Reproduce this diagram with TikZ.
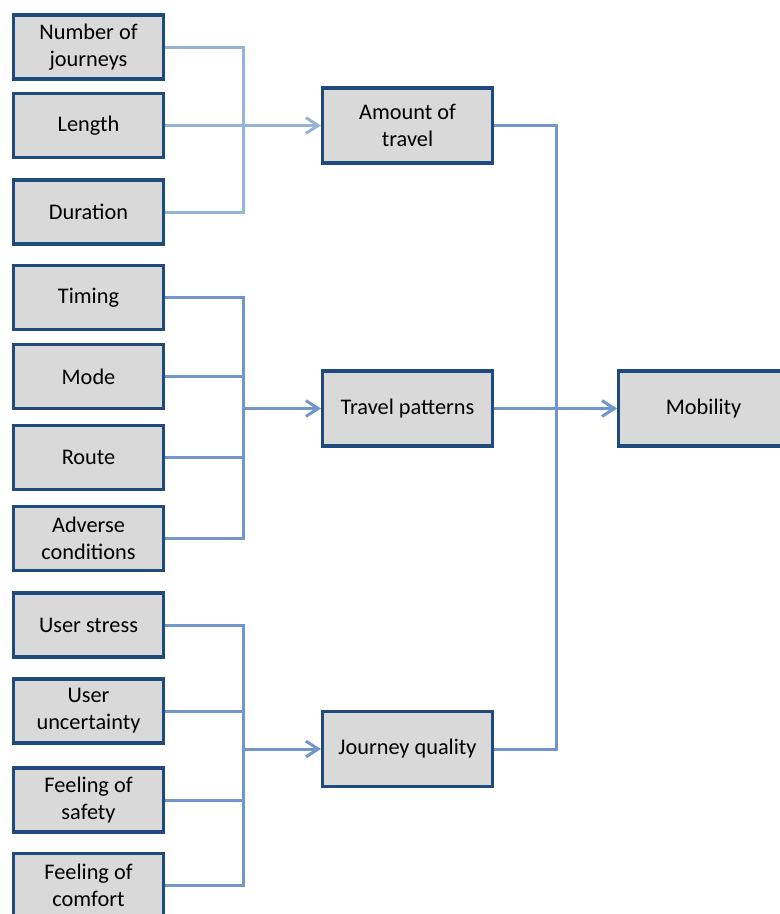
\documentclass[tikz,border=0pt]{standalone}
\usepackage{fontspec}
\setmainfont{Carlito}
\usepackage{tikz}
\usetikzlibrary{positioning,arrows.meta,calc}
\definecolor{boxline}{HTML}{1F4A7E}
\definecolor{boxfill}{HTML}{D9D9D9}
\definecolor{lightblue}{HTML}{95B3D7}
\definecolor{midblue}{HTML}{7096CB}

\begin{document}
\begin{tikzpicture}[x=0.02cm,y=-0.02cm,
  factor/.style={rectangle,draw=boxline,fill=boxfill,line width=1.8pt,
    minimum width=3cm,minimum height=1.28cm,align=center,inner sep=0pt,
    font=\fontsize{12.7}{15.5}\selectfont},
  group/.style={factor,minimum width=3.4cm,minimum height=1.5cm},
  link/.style={line width=1.7pt},
  tip/.style={-{Straight Barb[length=7pt,width=9pt]}}]
  \useasboundingbox (0,0) rectangle (779,914);
  \node[factor] (num) at (88.5,47) {Number of\\journeys};
  \node[factor] (len) at (88.5,125.5) {Length};
  \node[factor] (dur) at (88.5,212) {Duration};
  \node[factor] (tim) at (88.5,297.5) {Timing};
  \node[factor] (mode) at (88.5,376.5) {Mode};
  \node[factor] (route) at (88.5,457.5) {Route};
  \node[factor] (adv) at (88.5,538.5) {Adverse\\conditions};
  \node[factor] (stress) at (88.5,625) {User stress};
  \node[factor] (uncert) at (88.5,711) {User\\uncertainty};
  \node[factor] (safe) at (88.5,800) {Feeling of\\safety};
  \node[factor] (comf) at (88.5,885.5) {Feeling of\\comfort};
  \node[group] (amount) at (407.5,125.5) {Amount of\\travel};
  \node[group] (pat) at (407.5,408.5) {Travel patterns};
  \node[group] (qual) at (407.5,749) {Journey quality};
  \node[group] (mob) [right=2.46cm of pat] {Mobility};

  \draw[link,lightblue] (num.east) -- ++(78,0) |- (dur.east);
  \path[link,lightblue] (len) edge[tip] (amount);

  \draw[link,midblue] (tim.east) -- ++(78,0) |- (adv.east);
  \draw[link,midblue] (mode.east) -- ++(78,0);
  \draw[link,midblue] (route.east) -- ++(78,0);
  \coordinate (jp) at (243,408.5);
  \path[link,midblue] (jp) edge[tip] (pat);

  \draw[link,midblue] (stress.east) -- ++(78,0) |- (comf.east);
  \draw[link,midblue] (uncert.east) -- ++(78,0);
  \draw[link,midblue] (safe.east) -- ++(78,0);
  \coordinate (jq) at (243,749);
  \path[link,midblue] (jq) edge[tip] (qual);

  \draw[link,midblue] (amount.east) -- ++(62,0) |- (qual.east);
  \path[link,midblue] (pat) edge[tip] (mob);
\end{tikzpicture}
\end{document}
